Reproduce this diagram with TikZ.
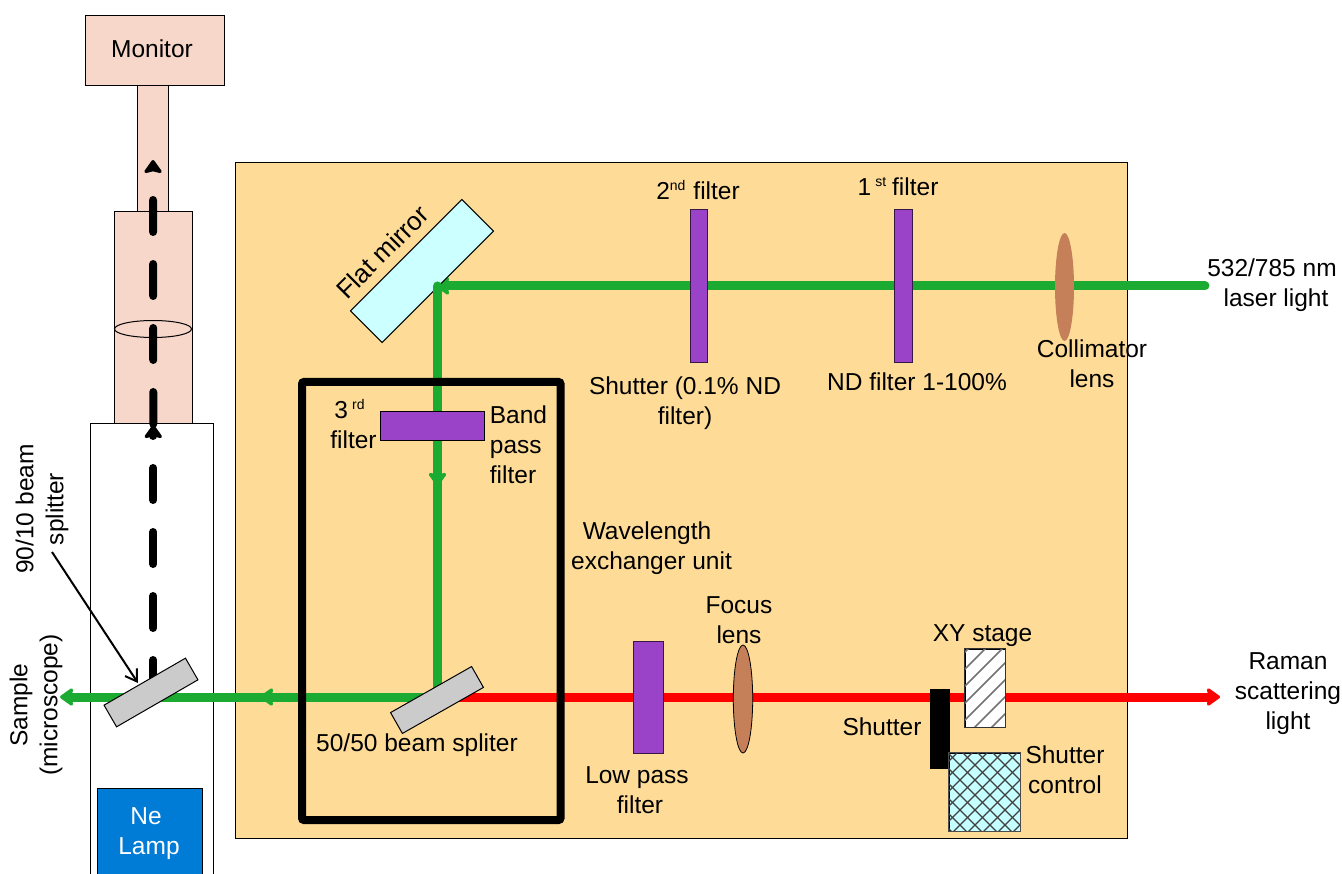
\documentclass[tikz,border=0pt]{standalone}
\usepackage{fontspec}
\setmainfont{Liberation Sans}
\usetikzlibrary{arrows.meta,shapes.geometric}
\pgfdeclarelayer{base}
\pgfdeclarelayer{beams}
\pgfdeclarelayer{mirrorlayer}
\pgfdeclarelayer{beamstop}
\pgfsetlayers{base,beams,mirrorlayer,beamstop,main}
\definecolor{pinkbox}{HTML}{F8D7CB}
\definecolor{orangebox}{HTML}{FEDC98}
\definecolor{beamgreen}{HTML}{1CAB32}
\definecolor{filterpurple}{HTML}{9B43C8}
\definecolor{lampblue}{HTML}{007CD6}
\definecolor{lensbrown}{HTML}{C58059}
\definecolor{splittergrey}{HTML}{CBCBCB}
\definecolor{mirrorcyan}{HTML}{CCFFFF}
\definecolor{crosscyan}{HTML}{C5FFFF}
\newcommand{\supfont}[1]{\raisebox{9pt}{\fontsize{14}{14}\selectfont #1}}
\tikzset{
  lbl/.style={font=\fontsize{24.5}{30}\selectfont,align=center,inner sep=0pt,text=black},
  lblleft/.style={lbl,align=left},
  box/.style={draw=black,line width=1pt,inner sep=0pt,minimum width=#1},
  boxh/.style={minimum height=#1},
  filterbox/.style={draw=black!65!filterpurple,line width=1pt,fill=filterpurple,inner sep=0pt,minimum width=#1},
  lensbody/.style={ellipse,inner sep=0pt,fill=lensbrown},
  greenbeam/.style={draw=beamgreen,line width=9pt},
  redbeam/.style={draw=red,line width=9pt},
  camerabeam/.style={draw=black,line width=8pt,line cap=round,dash pattern=on 32pt off 32pt},
  headtip/.style={-{Stealth[length=15pt,width=21pt,inset=2.5pt,round,line width=5pt]}},
}
\begin{document}
\begin{tikzpicture}[x=1pt,y=-1pt]
\useasboundingbox (0,0) rectangle (1342,874);
% housing boxes
\begin{pgfonlayer}{base}
\node[box=139pt,boxh=70pt,fill=pinkbox] (monitor) at (154.5,51) {};
\node[box=31pt,boxh=126pt,fill=pinkbox] (tube) at (152.5,149) {};
\node[box=78pt,boxh=212pt,fill=pinkbox] (body) at (153.5,318) {};
\node[box=122.5pt,boxh=452pt,fill=white] (micro) at (151.75,650) {};
\node[box=104.5pt,boxh=88pt,fill=lampblue] (lamp) at (149.75,832) {};
\node[box=892pt,boxh=675.5pt,fill=orangebox] (table) at (681.5,500.25) {};
\node[draw=black,line width=1pt,ellipse,inner sep=0pt,minimum width=77pt,minimum height=17pt] (tubelens) at (153,329) {};
\end{pgfonlayer}
% beam end points
\coordinate (laserin) at (1205,286);
\coordinate (mirrorhit) at (436,286);
\coordinate (vertop) at (437.5,286);
\coordinate (midarrow) at (437.5,486);
\coordinate (midjoin) at (437.5,474);
\coordinate (bshit) at (437.5,703);
\coordinate (greenstart) at (432,697);
\coordinate (greenmid) at (260,697);
\coordinate (greenjoin) at (272,697);
\coordinate (sample) at (60,697);
\coordinate (redstart) at (445,697);
\coordinate (ramanout) at (1220,697);
\coordinate (camA) at (153.3,692);
\coordinate (camB) at (153.3,425);
\coordinate (camC) at (153.3,424);
\coordinate (camD) at (153,160);
\begin{pgfonlayer}{beams}
\draw[greenbeam,headtip,line cap=round] (laserin) -- (mirrorhit);
\draw[greenbeam,headtip] (greenjoin) -- (sample);
\draw[greenbeam,headtip] (greenstart) -- (greenmid);
\draw[redbeam,headtip] (redstart) -- (ramanout);
\draw[camerabeam,headtip] (camA) -- (camB);
\draw[camerabeam,headtip] (camC) -- (camD);
\end{pgfonlayer}
\begin{pgfonlayer}{mirrorlayer}
\node[box=157.5pt,boxh=44.8pt,fill=mirrorcyan,rotate=45] (mirror) at (422,271) {};
\end{pgfonlayer}
\begin{pgfonlayer}{beamstop}
\draw[greenbeam,headtip] (midjoin) -- (bshit);
\draw[greenbeam,line cap=round,headtip] (vertop) -- (midarrow);
\end{pgfonlayer}
% optics
\node[box=93.2pt,boxh=24pt,fill=splittergrey,rotate=29.6] (bsfifty) at (437,700) {};
\node[box=94pt,boxh=25pt,fill=splittergrey,rotate=30] (bsninety) at (151,692.5) {};
\node[draw=black,line width=8pt,rounded corners=2pt,inner sep=0pt,minimum width=258.5pt,minimum height=438pt] (wavebox) at (431.25,601) {};
\node[box=104.4pt,boxh=29.6pt,fill=filterpurple] (bandpass) at (432.5,426.2) {};
\node[filterbox=17.5pt,boxh=153pt] (filtwo) at (699,286.5) {};
\node[filterbox=17.5pt,boxh=153pt] (filone) at (903.5,286.5) {};
\node[filterbox=30pt,boxh=112pt] (lowpass) at (648,697.3) {};
\node[lensbody,minimum width=19pt,minimum height=108pt] (collimator) at (1064.5,287) {};
\node[lensbody,draw=black,line width=0.8pt,minimum width=19.4pt,minimum height=108pt] (focus) at (743,699) {};
\node[fill=black,inner sep=0pt,minimum width=19.7pt,minimum height=79.4pt] (shutter) at (939.85,729) {};
\node[box=40pt,boxh=78.3pt,fill=white] (xystage) at (985.3,688.2) {};
\node[box=70.7pt,boxh=78.3pt,fill=crosscyan] (shutctl) at (984.65,792.2) {};
\begin{scope}
\clip (xystage.south west) rectangle (xystage.north east);
\foreach \k in {0,17,...,170}
  \draw[black!55,line width=1.6pt] (960,640+\k) -- ++(60,-60);
\end{scope}
\draw[black!80,line width=1pt] (xystage.south west) rectangle (xystage.north east);
\begin{scope}
\clip (shutctl.south west) rectangle (shutctl.north east);
\foreach \k in {0,15,...,180} {
  \draw[black!75,line width=1.2pt] (945,750+\k) -- ++(90,-90);
  \draw[black!75,line width=1.2pt] (945,840-\k) -- ++(90,90);
}
\end{scope}
\draw[black!70,line width=1pt] (shutctl.south west) rectangle (shutctl.north east);
% labels
\node[lbl] (tmonitor) at (152,49) {Monitor};
\node[lbl,text=white] (tlamp) at (149,833.5) {Ne\kern6pt\\Lamp};
\node[lbl,rotate=45,font=\fontsize{26}{30}\selectfont] (tmirror) at (382.5,252) {Flat mirror};
\node[lbl] (tsecond) at (698,190) {2\supfont{nd}\kern8pt filter};
\node[lbl] (tfirst) at (898,187) {1\,\supfont{st}\kern6pt filter};
\node[lbl] (tshuttwo) at (685,403) {Shutter (0.1\% ND\\filter)};
\node[lbl] (tnd) at (917,382) {ND filter 1-100\%};
\node[lbl] (tcoll) at (1092,363.5) {Collimator\\lens};
\node[lbl] (tlaser) at (1272,285) {532/785 nm\\\kern8pt laser light};
\node[lbl] (tthird) at (353.5,424) {3\,\supfont{rd}\kern8pt\\filter};
\node[lblleft] (tband) at (518.5,445) {Band\\pass\\filter};
\node[lbl] (twave) at (651.5,548) {Wavelength\kern9pt\\exchanger unit};
\node[lbl] (tfifty) at (417,745) {50/50 beam spliter};
\node[lbl] (tlow) at (640,790) {Low pass\kern6pt\\filter};
\node[lbl] (tfocus) at (739,620.5) {Focus\\lens};
\node[lbl] (txy) at (982.5,635.5) {XY stage};
\node[lbl] (tshutter) at (882,727) {Shutter};
\node[lbl] (tctl) at (1065,770) {Shutter\\control};
\node[lbl] (traman) at (1288,694) {Raman\\scattering\\light};
\node[lbl,rotate=90] (tsplit) at (42,509) {90/10 beam\\splitter};
\node[lbl,rotate=90] (tsample) at (36,705) {Sample\\(microscope)};
\coordinate (splitlabel) at (52,552);
\coordinate (splitpoint) at (138,683);
\draw[black,line width=2pt,-{Straight Barb[length=11pt,width=14pt]}] (splitlabel) -- (splitpoint);
\end{tikzpicture}
\end{document}
